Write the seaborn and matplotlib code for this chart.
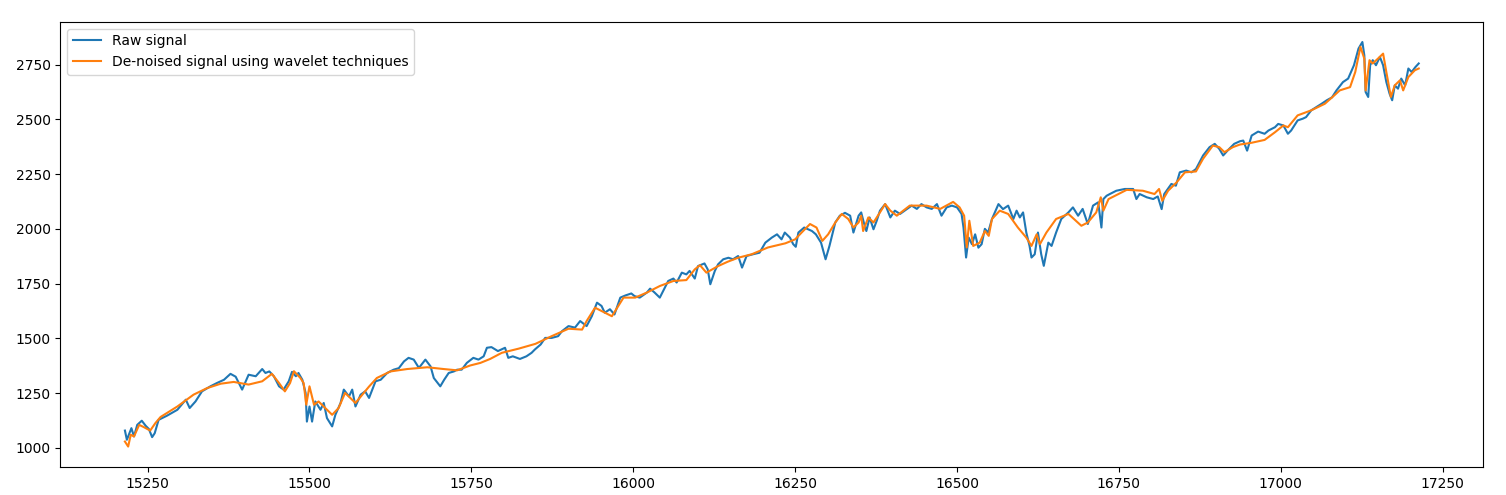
import matplotlib

matplotlib.use("Agg")
import matplotlib.pyplot as plt
import pandas as pd
import seaborn as sns

# raw signal (index, value)
raw_x = [
    15215, 15218, 15225, 15229, 15234, 15241, 15247, 15252, 15257, 15261,
    15267, 15280, 15296, 15309, 15315, 15324, 15334, 15347, 15357, 15368,
    15378, 15386, 15396, 15406, 15417, 15427, 15432, 15438, 15445, 15453,
    15460, 15468, 15473, 15479, 15483, 15489, 15494, 15496, 15500, 15504,
    15509, 15517, 15522, 15527, 15535, 15540, 15548, 15553, 15561, 15566,
    15571, 15579, 15586, 15592, 15602, 15610, 15620, 15630, 15638, 15646,
    15653, 15661, 15669, 15679, 15687, 15692, 15702, 15708, 15715, 15723,
    15728, 15735, 15743, 15753, 15761, 15769, 15774, 15781, 15791, 15802,
    15807, 15814, 15825, 15835, 15843, 15848, 15857, 15864, 15874, 15884,
    15890, 15900, 15910, 15918, 15928, 15936, 15944, 15951, 15956, 15964,
    15971, 15980, 15988, 15997, 16002, 16010, 16021, 16026, 16033, 16041,
    16054, 16062, 16067, 16075, 16082, 16087, 16095, 16100, 16110, 16115,
    16119, 16126, 16131, 16139, 16147, 16154, 16162, 16168, 16175, 16185,
    16195, 16204, 16214, 16222, 16229, 16234, 16242, 16247, 16251, 16255,
    16264, 16276, 16282, 16290, 16297, 16303, 16312, 16319, 16327, 16335,
    16340, 16348, 16352, 16356, 16360, 16365, 16371, 16376, 16381, 16389,
    16397, 16404, 16412, 16423, 16430, 16438, 16445, 16453, 16461, 16469,
    16476, 16484, 16492, 16500, 16507, 16510, 16514, 16518, 16523, 16528,
    16533, 16538, 16543, 16548, 16554, 16564, 16571, 16579, 16587, 16592,
    16597, 16602, 16607, 16612, 16615, 16620, 16625, 16630, 16634, 16641,
    16646, 16653, 16661, 16672, 16679, 16687, 16694, 16702, 16710, 16718,
    16723, 16726, 16731, 16736, 16746, 16759, 16772, 16777, 16782, 16793,
    16803, 16810, 16816, 16820, 16831, 16838, 16844, 16854, 16862, 16869,
    16880, 16890, 16898, 16905, 16911, 16918, 16928, 16937, 16942, 16948,
    16955, 16965, 16975, 16981, 16991, 16996, 17004, 17011, 17016, 17026,
    17034, 17039, 17047, 17055, 17063, 17071, 17079, 17086, 17096, 17104,
    17113, 17120, 17126, 17129, 17131, 17135, 17138, 17142, 17147, 17153,
    17158, 17163, 17168, 17172, 17176, 17181, 17186, 17192, 17197, 17202,
    17208, 17213,
]
raw_y = [
    1079, 1037, 1090, 1052, 1105, 1124, 1101, 1086, 1049, 1067,
    1128, 1147, 1174, 1220, 1182, 1212, 1258, 1281, 1296, 1311,
    1338, 1325, 1266, 1334, 1327, 1360, 1342, 1349, 1327, 1281,
    1266, 1304, 1347, 1327, 1342, 1311, 1251, 1120, 1189, 1120,
    1212, 1174, 1205, 1136, 1098, 1151, 1205, 1266, 1235, 1266,
    1189, 1243, 1258, 1228, 1304, 1311, 1342, 1357, 1364, 1395,
    1411, 1403, 1365, 1403, 1372, 1319, 1281, 1311, 1342, 1349,
    1357, 1357, 1388, 1411, 1403, 1418, 1457, 1460, 1442, 1457,
    1411, 1418, 1406, 1418, 1434, 1449, 1472, 1502, 1502, 1510,
    1533, 1556, 1549, 1579, 1556, 1601, 1663, 1648, 1617, 1633,
    1609, 1686, 1696, 1705, 1693, 1686, 1709, 1727, 1709, 1686,
    1762, 1773, 1755, 1800, 1792, 1808, 1773, 1830, 1842, 1815,
    1747, 1808, 1838, 1861, 1868, 1861, 1876, 1823, 1876, 1884,
    1891, 1937, 1960, 1975, 1952, 1983, 1960, 1930, 1918, 1983,
    2006, 1990, 1975, 1937, 1861, 1922, 2029, 2060, 2073, 2060,
    1983, 2060, 2075, 2029, 1990, 2052, 1998, 2037, 2083, 2113,
    2052, 2083, 2068, 2091, 2106, 2091, 2113, 2098, 2091, 2113,
    2060, 2098, 2106, 2098, 2068, 2006, 1869, 1960, 1930, 1975,
    1914, 1930, 2000, 1983, 2045, 2113, 2090, 2106, 2045, 2083,
    2052, 2075, 1983, 1922, 1869, 1884, 1983, 1884, 1831, 1937,
    1922, 1983, 2045, 2075, 2098, 2060, 2091, 2022, 2106, 2121,
    2006, 2136, 2151, 2159, 2174, 2182, 2182, 2136, 2159, 2144,
    2136, 2148, 2090, 2159, 2205, 2197, 2258, 2266, 2258, 2273,
    2335, 2373, 2388, 2365, 2335, 2358, 2388, 2400, 2403, 2357,
    2426, 2444, 2434, 2449, 2464, 2479, 2472, 2434, 2449, 2495,
    2503, 2510, 2541, 2556, 2571, 2587, 2600, 2632, 2670, 2686,
    2747, 2823, 2853, 2792, 2625, 2602, 2747, 2770, 2747, 2785,
    2747, 2670, 2617, 2587, 2655, 2640, 2686, 2655, 2732, 2716,
    2739, 2755,
]

# wavelet de-noised signal
den_x = [
    15215, 15220, 15224, 15229, 15237, 15244, 15254, 15262, 15270, 15296,
    15321, 15342, 15363, 15383, 15406, 15427, 15442, 15453, 15462, 15470,
    15476, 15486, 15491, 15495, 15500, 15507, 15514, 15522, 15535, 15545,
    15555, 15563, 15571, 15584, 15592, 15604, 15625, 15651, 15682, 15707,
    15728, 15748, 15764, 15779, 15797, 15823, 15849, 15874, 15900, 15921,
    15928, 15941, 15951, 15967, 15985, 16003, 16021, 16041, 16062, 16082,
    16095, 16103, 16113, 16131, 16146, 16162, 16183, 16208, 16235, 16250,
    16260, 16273, 16283, 16292, 16301, 16312, 16322, 16332, 16340, 16348,
    16352, 16355, 16363, 16371, 16381, 16389, 16397, 16407, 16427, 16453,
    16474, 16494, 16504, 16511, 16515, 16519, 16525, 16535, 16543, 16549,
    16554, 16566, 16579, 16594, 16607, 16615, 16623, 16628, 16638, 16653,
    16672, 16692, 16702, 16715, 16722, 16726, 16734, 16744, 16762, 16787,
    16805, 16812, 16817, 16826, 16839, 16852, 16869, 16880, 16895, 16905,
    16913, 16926, 16937, 16955, 16975, 16991, 17004, 17011, 17026, 17047,
    17068, 17081, 17091, 17107, 17115, 17123, 17129, 17131, 17137, 17142,
    17150, 17158, 17163, 17170, 17176, 17184, 17189, 17197, 17207, 17213,
]
den_y = [
    1029, 1006, 1060, 1052, 1105, 1095, 1079, 1113, 1141, 1189,
    1243, 1273, 1293, 1301, 1289, 1304, 1338, 1296, 1258, 1296,
    1350, 1319, 1296, 1197, 1281, 1197, 1212, 1189, 1151, 1182,
    1251, 1228, 1205, 1251, 1280, 1319, 1349, 1360, 1368, 1360,
    1354, 1376, 1388, 1406, 1434, 1453, 1475, 1510, 1544, 1540,
    1579, 1640, 1625, 1601, 1686, 1686, 1709, 1739, 1762, 1766,
    1815, 1834, 1800, 1830, 1850, 1868, 1884, 1915, 1934, 1952,
    1983, 2022, 2006, 1945, 1975, 2029, 2068, 2045, 2006, 2029,
    2060, 1990, 2052, 2029, 2075, 2113, 2083, 2060, 2106, 2106,
    2091, 2123, 2098, 2060, 1915, 2037, 1922, 1937, 1990, 1968,
    2045, 2083, 2068, 2006, 1960, 1922, 1975, 1930, 1983, 2045,
    2068, 2014, 2029, 2075, 2144, 2083, 2136, 2151, 2178, 2174,
    2159, 2182, 2128, 2174, 2212, 2258, 2262, 2320, 2380, 2373,
    2350, 2373, 2385, 2393, 2406, 2441, 2472, 2464, 2518, 2541,
    2571, 2605, 2632, 2647, 2716, 2831, 2777, 2632, 2770, 2755,
    2777, 2800, 2716, 2602, 2655, 2678, 2632, 2693, 2724, 2732,
]

raw = pd.DataFrame({"idx": raw_x, "value": raw_y})
den = pd.DataFrame({"idx": den_x, "value": den_y})

fig, ax = plt.subplots(figsize=(15.06, 4.95), dpi=100)
sns.lineplot(data=raw, x="idx", y="value", ax=ax, color="tab:blue",
             lw=1.5, label="Raw signal")
sns.lineplot(data=den, x="idx", y="value", ax=ax, color="tab:orange",
             lw=1.5, label="De-noised signal using wavelet techniques")
ax.set_xlabel("")
ax.set_ylabel("")
ax.legend(loc="upper left")
fig.subplots_adjust(left=0.04, right=0.985, top=0.956, bottom=0.057)
fig.savefig("out.png", dpi=100)
plt.close(fig)
